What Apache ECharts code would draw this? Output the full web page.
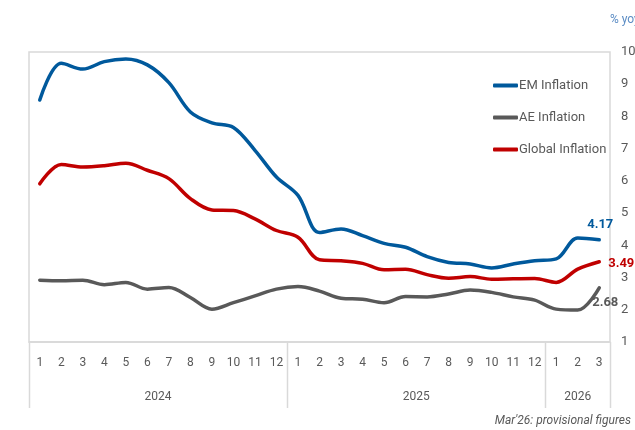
<!DOCTYPE html>
<html>
<head>
<meta charset="utf-8">
<script src="https://cdn.jsdelivr.net/npm/echarts@6/dist/echarts.min.js"></script>
<style>
  html, body { margin: 0; padding: 0; background: #ffffff; }
  #chart { width: 635px; height: 430px; }
</style>
</head>
<body>
<div id="chart"></div>
<script>
// Month ticks: Jan 2024 to Mar 2026
const months = ['1','2','3','4','5','6','7','8','9','10','11','12',
                '1','2','3','4','5','6','7','8','9','10','11','12',
                '1','2','3'];
const yearLabels = ['2024', '2025', '2026'];
const yearMonthCounts = [12, 12, 3];

// Inflation, % yoy
const emInflation = [8.51, 9.65, 9.47, 9.70, 9.78, 9.60, 9.05, 8.14, 7.80, 7.66, 6.95, 6.12,
                     5.55, 4.40, 4.51, 4.30, 4.06, 3.94, 3.65, 3.47, 3.42, 3.30, 3.42, 3.52,
                     3.58, 4.23, 4.17];
const aeInflation = [2.92, 2.90, 2.92, 2.78, 2.85, 2.64, 2.69, 2.38, 2.02, 2.22, 2.43, 2.64,
                     2.72, 2.58, 2.36, 2.33, 2.22, 2.41, 2.40, 2.49, 2.61, 2.54, 2.40, 2.30,
                     2.02, 1.99, 2.68];
const globalInflation = [5.91, 6.51, 6.43, 6.47, 6.55, 6.33, 6.07, 5.45, 5.10, 5.08, 4.82, 4.46,
                         4.25, 3.55, 3.52, 3.44, 3.24, 3.26, 3.09, 2.98, 3.03, 2.95, 2.96, 2.97,
                         2.85, 3.26, 3.49];

const FONT = "Roboto, 'Liberation Sans', sans-serif";
const TEXT = '#595959';
const BORDER = '#d9d9d9';

const chart = echarts.init(document.getElementById('chart'), null, { renderer: 'canvas' });

// Only the latest observation carries a value label, placed relative to its point
function withEndLabel(values, color, labelPos) {
  const last = values.length - 1;
  return values.map((v, i) => i !== last ? v : {
    value: v,
    label: {
      show: true,
      formatter: v.toFixed(2),
      position: labelPos,
      align: 'center',
      verticalAlign: 'middle',
      color: color,
      fontFamily: FONT,
      fontWeight: 'bold',
      fontSize: 13
    }
  });
}

function lineSeries(name, values, color, labelPos) {
  return {
    name: name,
    type: 'line',
    data: withEndLabel(values, color, labelPos),
    smooth: 0.35,
    symbol: 'circle',
    symbolSize: 0,
    showSymbol: true,
    lineStyle: { color: color, width: 3.5, cap: 'round', join: 'round' },
    itemStyle: { color: color },
    z: 3
  };
}

const option = {
  animation: false,
  textStyle: { fontFamily: FONT },
  grid: {
    left: 29, right: 25, top: 52, bottom: 88,
    show: true, borderColor: BORDER, borderWidth: 1.5,
    containLabel: false,
    outerBoundsMode: 'none'
  },
  legend: {
    orient: 'vertical',
    left: 488, top: 74,
    itemWidth: 25, itemHeight: 4, itemGap: 19,
    icon: 'roundRect',
    textStyle: { color: TEXT, fontSize: 13, fontFamily: FONT, padding: [0, 0, 0, -4] },
    data: ['EM Inflation', 'AE Inflation', 'Global Inflation']
  },
  xAxis: {
    type: 'category',
    data: months,
    boundaryGap: true,
    axisLine: { show: true, lineStyle: { color: BORDER, width: 1.5 } },
    axisTick: { show: false },
    axisLabel: { color: TEXT, fontSize: 12, fontFamily: FONT, margin: 15, interval: 0 },
    splitLine: { show: false }
  },
  yAxis: {
    type: 'value',
    position: 'right',
    min: 1, max: 10, interval: 1,
    name: '% yoy',
    nameLocation: 'end',
    nameGap: 26,
    nameTextStyle: { color: '#5b8cc4', fontSize: 12, fontFamily: FONT, align: 'left', padding: [0, 0, 0, 0] },
    axisLine: { show: false },
    axisTick: { show: false },
    axisLabel: { color: TEXT, fontSize: 13, fontFamily: FONT, margin: 11 },
    splitLine: { show: false }
  },
  series: [
    lineSeries('EM Inflation', emInflation, '#00599c', [1, -15]),
    lineSeries('AE Inflation', aeInflation, '#595959', [6, 15]),
    lineSeries('Global Inflation', globalInflation, '#c00000', [22, 2])
  ]
};

chart.setOption(option);

// Year band beneath the month labels: separators and centred year names,
// placed from the category axis so they follow the month positions.
(function drawYearBand() {
  const x0 = chart.convertToPixel({ xAxisIndex: 0 }, 0);
  const x1 = chart.convertToPixel({ xAxisIndex: 0 }, 1);
  const band = x1 - x0;
  const yBase = chart.convertToPixel({ yAxisIndex: 0 }, 1);
  const depth = 66;
  const elements = [];
  let start = 0;
  const edges = [start];
  yearMonthCounts.forEach((n, k) => {
    const left = x0 - band / 2 + start * band;
    const right = left + n * band;
    elements.push({
      type: 'text',
      x: (left + right) / 2,
      y: yBase + 55,
      style: { text: yearLabels[k], fill: TEXT, font: '12px ' + FONT, align: 'center', verticalAlign: 'middle' }
    });
    start += n;
    edges.push(start);
  });
  edges.forEach(idx => {
    const x = Math.round(x0 - band / 2 + idx * band) + 0.5;
    elements.push({
      type: 'line',
      shape: { x1: x, y1: yBase, x2: x, y2: yBase + depth },
      style: { stroke: BORDER, lineWidth: 1.5 }
    });
  });
  elements.push({
    type: 'text',
    right: 4,
    top: 415,
    style: { text: "Mar'26: provisional figures", fill: TEXT, font: 'italic 12px ' + FONT }
  });
  chart.setOption({ graphic: { elements: elements } });
})();
</script>
</body>
</html>
